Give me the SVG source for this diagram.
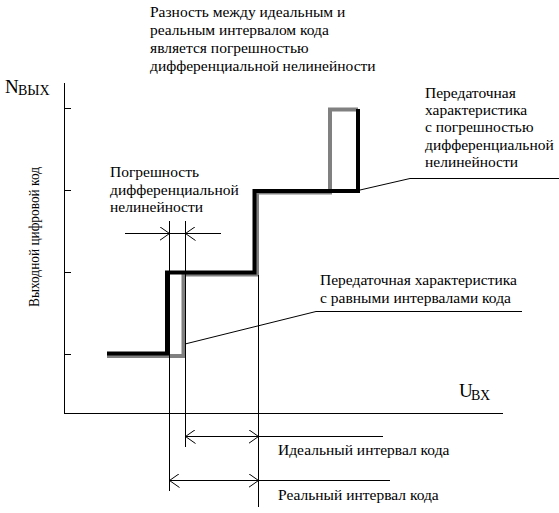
<svg xmlns="http://www.w3.org/2000/svg" width="559" height="513" viewBox="0 0 559 513" font-family="'Liberation Serif', 'DejaVu Serif', serif">
<defs>
<style>
text{font-family:'Liberation Serif','DejaVu Serif',serif;font-size:15.5px;fill:#000}
.thin{stroke:#000;stroke-width:1;fill:none}
.real{stroke:#000;stroke-width:4;fill:none;stroke-linejoin:miter;stroke-linecap:square}
.ideal{stroke:#808080;stroke-width:4;fill:none;stroke-linejoin:miter;stroke-linecap:square}
</style>
<marker id="chev" viewBox="0 0 10 14" refX="10" refY="7" markerWidth="10" markerHeight="14" markerUnits="userSpaceOnUse" orient="auto-start-reverse">
<path d="M0,0 L10,7 L0,14" fill="none" stroke="#000" stroke-width="1"/>
</marker>
</defs>
<rect width="559" height="513" fill="#fff"/>
<g id="axes">
<line class="thin" x1="64.5" y1="83" x2="64.5" y2="413.5"/>
<line class="thin" x1="64" y1="413.5" x2="503" y2="413.5"/>
<line class="thin" x1="64" y1="108.5" x2="71" y2="108.5"/>
<line class="thin" x1="64" y1="190.5" x2="71" y2="190.5"/>
<line class="thin" x1="64" y1="272.5" x2="71" y2="272.5"/>
<line class="thin" x1="64" y1="354.5" x2="71" y2="354.5"/>
<text x="5" y="93" style="font-size:19px">N</text>
<text x="18" y="95" style="font-size:14px">ВЫХ</text>
<text x="459" y="397" style="font-size:19px">U</text>
<text x="471" y="400" style="font-size:14px">ВХ</text>
<text transform="translate(39,237) rotate(-90)" text-anchor="middle" style="font-size:15px" textLength="140" lengthAdjust="spacingAndGlyphs">Выходной цифровой код</text>
</g>
<g id="ideal-characteristic">
<polyline class="ideal" points="109,356 183.5,356 183.5,274.5 257,274.5 257,192.5 330,192.5 330,109.5 356,109.5"/>
</g>
<g id="real-characteristic">
<polyline class="real" points="109,353.5 167,353.5 167,272.5 254.5,272.5 254.5,191 358,191 358,111"/>
</g>
<g id="connectors">
<line class="thin" x1="169.5" y1="221" x2="169.5" y2="491"/>
<line class="thin" x1="185.5" y1="221" x2="185.5" y2="447"/>
<line class="thin" x1="258.5" y1="275" x2="258.5" y2="507"/>
<line class="thin" x1="125" y1="233.5" x2="169.5" y2="233.5" marker-end="url(#chev)"/>
<line class="thin" x1="221" y1="233.5" x2="185.5" y2="233.5" marker-end="url(#chev)"/>
<line class="thin" x1="169.5" y1="233.5" x2="185.5" y2="233.5"/>
<line class="thin" x1="185.5" y1="436.5" x2="258.5" y2="436.5" marker-start="url(#chev)" marker-end="url(#chev)"/>
<line class="thin" x1="258.5" y1="436.5" x2="383" y2="436.5"/>
<line class="thin" x1="169.5" y1="480.5" x2="258.5" y2="480.5" marker-start="url(#chev)" marker-end="url(#chev)"/>
<line class="thin" x1="258.5" y1="480.5" x2="390" y2="480.5"/>
<polyline class="thin" points="185,344 316,311.5 522,311.5"/>
<polyline class="thin" points="360,190 410,178.5 559,178.5"/>
</g>
<g id="label-top">
<text x="150" y="17">Разность между идеальным и</text>
<text x="150" y="35">реальным интервалом кода</text>
<text x="150" y="53">является погрешностью</text>
<text x="150" y="71">дифференциальной нелинейности</text>
</g>
<g id="label-dnl">
<text x="110" y="177">Погрешность</text>
<text x="110" y="195">дифференциальной</text>
<text x="110" y="212">нелинейности</text>
</g>
<g id="label-real-char">
<text x="425" y="98">Передаточная</text>
<text x="425" y="115">характеристика</text>
<text x="425" y="132">с погрешностью</text>
<text x="425" y="150">дифференциальной</text>
<text x="425" y="167">нелинейности</text>
</g>
<g id="label-ideal-char">
<text x="320" y="285">Передаточная характеристика</text>
<text x="320" y="303">с равными интервалами кода</text>
</g>
<g id="label-intervals">
<text x="278" y="455">Идеальный интервал кода</text>
<text x="278" y="500">Реальный интервал кода</text>
</g>
</svg>
